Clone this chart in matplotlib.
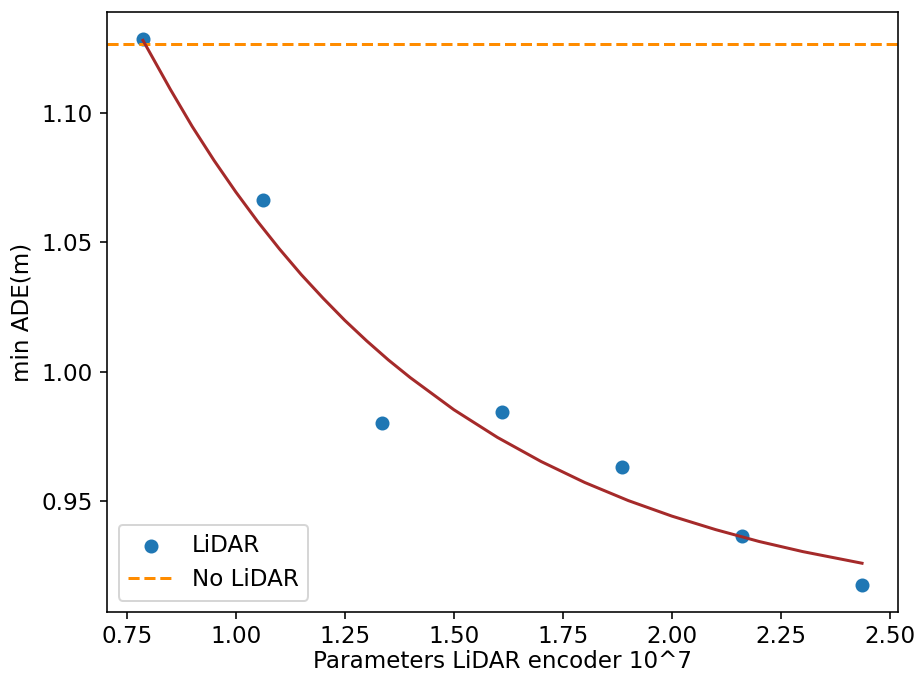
#!/usr/bin/env python3

import matplotlib
matplotlib.use("Agg")
import matplotlib.pyplot as plt

# measured points (params in 1e7, min ADE in m)
params = [0.787, 1.062, 1.335, 1.610, 1.885, 2.161, 2.436]
min_ade = [1.1284, 1.0662, 0.9803, 0.9846, 0.9632, 0.9364, 0.9177]

# baseline without LiDAR
no_lidar = 1.1264

# fitted trend curve
fit_x = [0.787, 0.85, 0.90, 0.95, 1.00, 1.05, 1.10, 1.15, 1.20, 1.25,
         1.30, 1.35, 1.40, 1.50, 1.60, 1.70, 1.80, 1.90, 2.00, 2.10,
         2.20, 2.30, 2.436]
fit_y = [1.1280, 1.1090, 1.0947, 1.0816, 1.0694, 1.0580, 1.0474, 1.0375,
         1.0284, 1.0198, 1.0119, 1.0045, 0.9977, 0.9853, 0.9746, 0.9653,
         0.9572, 0.9502, 0.9442, 0.9390, 0.9344, 0.9305, 0.9260]


def main():
    plt.rcParams["font.size"] = 11.5
    dpi = 144
    fig = plt.figure(figsize=(917 / dpi, 673 / dpi), dpi=dpi)
    ax = fig.add_axes([107 / 917, 61 / 673, 791 / 917, 600 / 673])

    ax.scatter(params, min_ade, label="LiDAR")
    ax.axhline(no_lidar, color="darkorange", linestyle="--", label="No LiDAR")
    ax.plot(fit_x, fit_y, color="brown", linewidth=1.5)

    ax.tick_params(axis="x", pad=3)
    ax.set_xlabel("Parameters LiDAR encoder 10^7", labelpad=1)
    ax.set_ylabel("min ADE(m)")
    ax.legend(loc="lower left", fontsize=11.5)

    fig.savefig("out.png", dpi=dpi)


if __name__ == "__main__":
    main()
